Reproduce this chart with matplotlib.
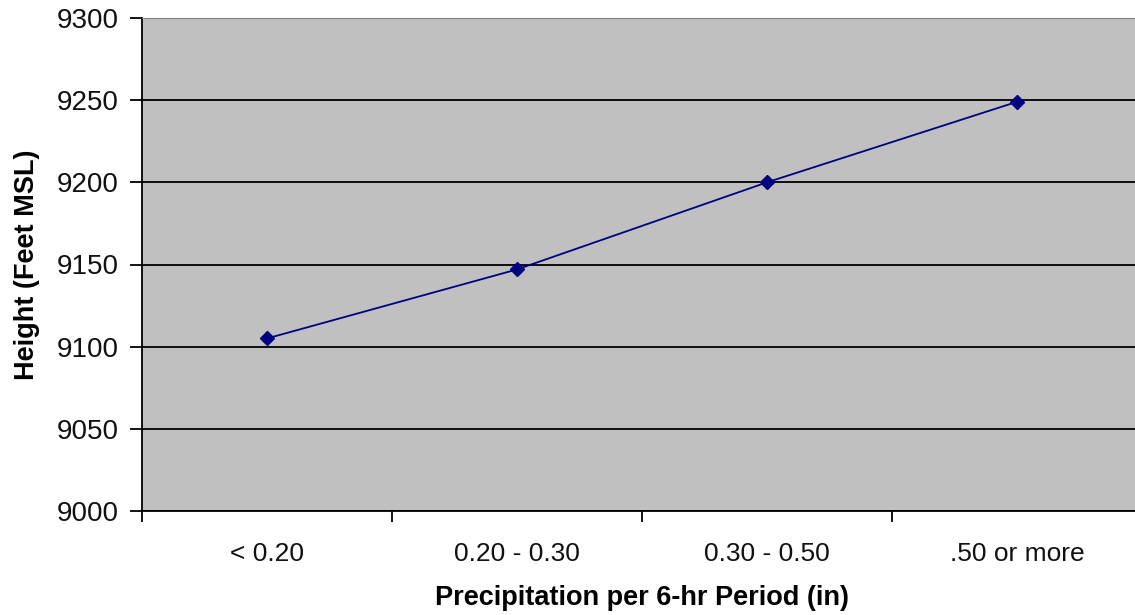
import numpy as np
import matplotlib
matplotlib.use("Agg")
import matplotlib.pyplot as plt

plt.rcParams['font.family'] = ['Liberation Sans', 'DejaVu Sans']

# precipitation classes and the matching height values
categorias = ['< 0.20', '0.20 - 0.30', '0.30 - 0.50', '.50 or more']
alturas = [9105, 9147, 9200, 9249]
y_ticks = [9000, 9050, 9100, 9150, 9200, 9250, 9300]

fig = plt.figure(figsize=(11.35, 6.15), dpi=100)
ax = fig.add_axes([142 / 1135, 1 - 511 / 615, 1000 / 1135, 493 / 615])
ax.set_facecolor('#c0c0c0')

x = np.arange(len(categorias))
ax.plot(x, alturas, color='#000080', linewidth=1.3, marker='D',
        markersize=7, markerfacecolor='#000080', markeredgecolor='#000080',
        zorder=3, clip_on=False)

ax.set_xlim(-0.5, len(categorias) - 0.5)
ax.set_ylim(9000, 9300)
ax.set_yticks(y_ticks)
ax.yaxis.grid(True, color='black', linewidth=1.3)
ax.set_axisbelow(True)

# category labels between boundary ticks
ax.set_xticks(np.arange(len(categorias) + 1) - 0.5)
ax.set_xticklabels([])
ax.set_xticks(x, minor=True)
ax.set_xticklabels(categorias, minor=True)
ax.tick_params(axis='x', which='minor', length=0, pad=22, labelsize=19,
               labelcolor='#111111')
ax.tick_params(axis='x', which='major', length=8, width=1.3, direction='out')
ax.tick_params(axis='y', length=9, width=1.3, direction='out', pad=8,
               labelsize=20, labelcolor='#111111')

for s in ['left', 'bottom']:
    ax.spines[s].set_linewidth(1.3)
    ax.spines[s].set_color('black')
ax.spines['top'].set_color('#808080')
ax.spines['right'].set_visible(False)

ax.set_xlabel('Precipitation per 6-hr Period (in)', fontsize=19.5,
              fontweight='bold', labelpad=14)
ax.set_ylabel('Height (Feet MSL)', fontsize=19.5, fontweight='bold',
              labelpad=12)

fig.savefig('out.png', dpi=100)
